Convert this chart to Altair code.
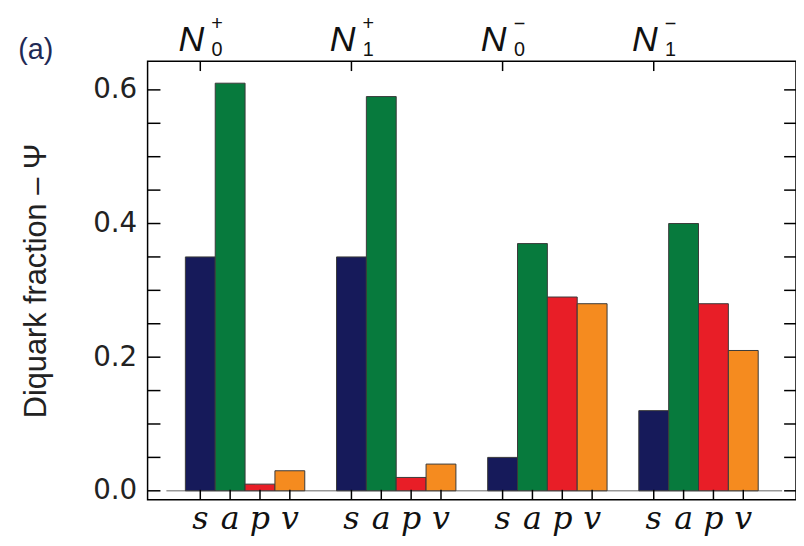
import altair as alt
import pandas as pd

groups = ["N0+", "N1+", "N0-", "N1-"]
group_sub = ["0", "1", "0", "1"]
group_sup = ["+", "+", "\u2212", "\u2212"]
components = ["s", "a", "p", "v"]
s_vals = [0.35, 0.35, 0.05, 0.12]
a_vals = [0.61, 0.59, 0.37, 0.40]
p_vals = [0.01, 0.02, 0.29, 0.28]
v_vals = [0.03, 0.04, 0.28, 0.21]
colors = ["#161a5a", "#077a3d", "#e81e27", "#f58b1f"]
y_labels = [0.0, 0.2, 0.4, 0.6]
minor_ticks = [0.0, 0.05, 0.1, 0.15, 0.2, 0.25, 0.3, 0.35, 0.4, 0.45, 0.5, 0.55, 0.6]

rows = []
for gi, g in enumerate(groups):
    for comp, vals in zip(components, [s_vals, a_vals, p_vals, v_vals]):
        rows.append({"group": g, "comp": comp, "value": vals[gi]})
df = pd.DataFrame(rows)
top_df = pd.DataFrame({"group": groups, "comp": ["s"] * len(groups),
                       "base": ["N"] * len(groups), "sub": group_sub, "sup": group_sup})
tick_df = pd.DataFrame({"value": minor_ticks})
zero_df = pd.DataFrame({"value": [0.0]})

W, H = 655, 443
xscale = alt.Scale(domain=groups, paddingInner=0.21, paddingOuter=0.25)
xoff = alt.Scale(domain=components, paddingInner=0, paddingOuter=0)
yscale = alt.Scale(domain=[-0.0133, 0.643], nice=False, zero=False)

X = alt.X("group:N", scale=xscale, axis=None, sort=groups)
XO = alt.XOffset("comp:N", scale=xoff, sort=components)

yaxis = alt.Axis(values=y_labels, format=".1f", ticks=False, domain=False, grid=False,
                 labelFont="DejaVu Sans", labelFontSize=28, labelColor="#222222",
                 labelPadding=11,
                 title="Diquark fraction \u2013 \u03a8", titleFont="Liberation Sans",
                 titleFontSize=31, titleFontWeight="normal", titleColor="#222222",
                 titleX=-112, titleY=H / 2, titleAngle=270, titleAlign="center",
                 titleBaseline="middle")
Y = alt.Y("value:Q", scale=yscale, axis=yaxis, stack=None)

baseline = alt.Chart(zero_df).mark_rule(color="#9a9a9a", strokeWidth=1.5).encode(
    y=Y, x=alt.value(19), x2=alt.value(641))

bars = alt.Chart(df).mark_bar(stroke="#3a3a3a", strokeWidth=1).encode(
    x=X, xOffset=XO, y=Y, y2=alt.datum(0),
    color=alt.Color("comp:N", scale=alt.Scale(domain=components, range=colors), legend=None),
)

left_ticks = alt.Chart(tick_df).mark_rule(color="black", strokeWidth=1.5).encode(
    y=Y, x=alt.value(0), x2=alt.value(13))
right_ticks = alt.Chart(tick_df).mark_rule(color="black", strokeWidth=1.5).encode(
    y=Y, x=alt.value(W - 12), x2=alt.value(W))

bottom_ticks = alt.Chart(df).mark_rule(color="black", strokeWidth=1.5).encode(
    x=X, xOffset=XO, y=alt.value(H - 10), y2=alt.value(H))
top_ticks = alt.Chart(top_df).mark_rule(color="black", strokeWidth=1.5).encode(
    x=X, xOffset=XO, y=alt.value(0), y2=alt.value(10))

n_text = alt.Chart(top_df).mark_text(font="Liberation Sans", fontStyle="italic", fontSize=36,
                                     dx=-9, align="center", baseline="alphabetic",
                                     color="#111111").encode(
    x=X, xOffset=XO, y=alt.value(-10), text="base:N")
sub_text = alt.Chart(top_df).mark_text(font="Liberation Sans", fontSize=20, dx=17,
                                       align="center", baseline="alphabetic",
                                       color="#111111").encode(
    x=X, xOffset=XO, y=alt.value(-5), text="sub:N")
sup_text = alt.Chart(top_df).mark_text(font="Liberation Sans", fontSize=20, dx=17,
                                       align="center", baseline="alphabetic",
                                       color="#111111").encode(
    x=X, xOffset=XO, y=alt.value(-31), text="sup:N")

comp_text = alt.Chart(df).mark_text(font="DejaVu Serif", fontStyle="italic", fontSize=32,
                                    align="center", baseline="alphabetic",
                                    color="#111111").encode(
    x=X, xOffset=XO, y=alt.value(H + 30), text="comp:N")

panel = alt.Chart(pd.DataFrame({"t": ["(a)"]})).mark_text(
    font="Liberation Sans", fontSize=29, align="center", baseline="middle",
    color="#1f2a55").encode(x=alt.value(-113), y=alt.value(-11), text="t:N")

chart = alt.layer(
    baseline, bars, left_ticks, right_ticks, bottom_ticks, top_ticks,
    n_text, sub_text, sup_text, comp_text, panel
).properties(
    width=W, height=H,
    autosize=alt.AutoSizeParams(type="none"),
    padding={"left": 141, "top": 51, "right": 0, "bottom": 36},
    background="white",
).configure_view(stroke="black", strokeWidth=1.5)

chart.save("out.html", embed_options={"renderer": "svg", "actions": False})
